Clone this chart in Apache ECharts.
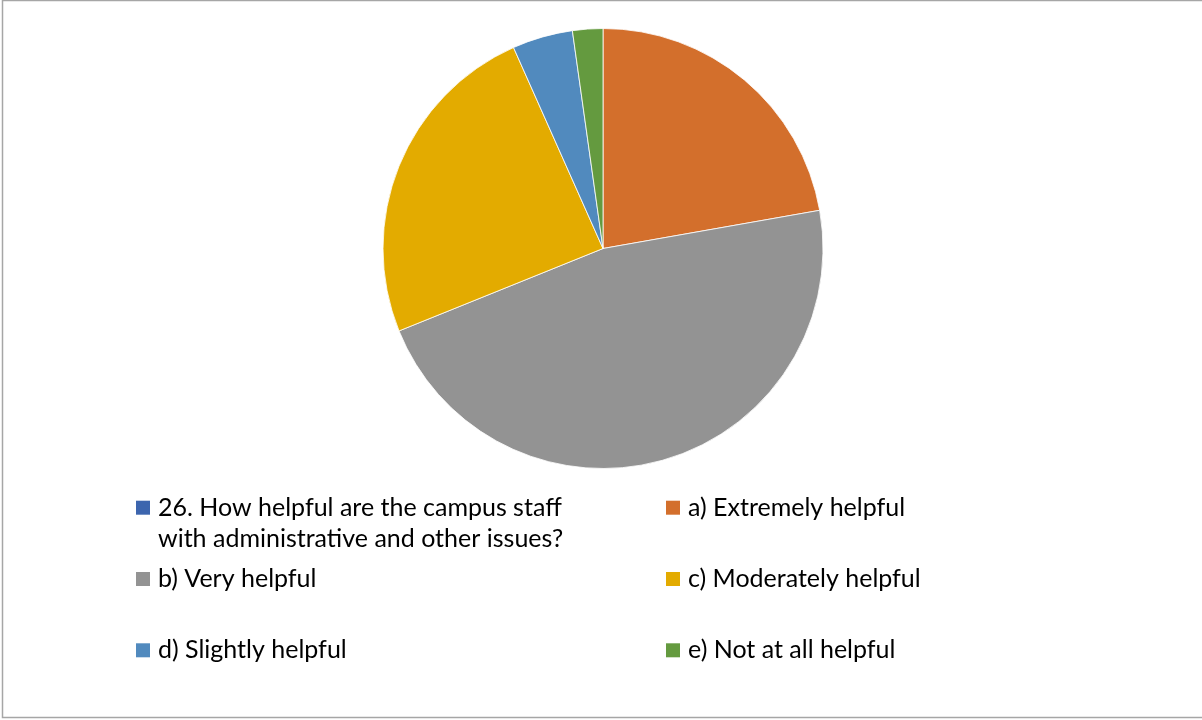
<!DOCTYPE html>
<html>
<head>
<meta charset="utf-8">
<style>
  html, body { margin: 0; padding: 0; background: #fff; }
  #chart { width: 1202px; height: 720px; }
</style>
<script src="https://cdn.jsdelivr.net/npm/echarts@6/dist/echarts.min.js"></script>
</head>
<body>
<div id="chart"></div>
<script>
// Survey question 26: responses per answer option
const categories = [
  '26. How helpful are the campus staff with administrative and other issues?',
  'a) Extremely helpful',
  'b) Very helpful',
  'c) Moderately helpful',
  'd) Slightly helpful',
  'e) Not at all helpful'
];
const counts = [0, 10, 21, 11, 2, 1];
const colors = ['#3C65AE', '#D36F2C', '#939393', '#E3AB00', '#518ABE', '#649A3F'];

const FONT = 'Lato, "Open Sans", sans-serif';
const FONT_SIZE = 25;
const LINE_H = 31;

// legend slots: [left, icon centre y] for each category, two columns
const legendSlots = [
  [136, 507.7], [666, 507.7],
  [136, 579], [666, 579],
  [136, 650.3], [666, 650.3]
];

const legends = categories.map((name, i) => {
  const multi = i === 0;
  // the long item wraps; a leading blank line keeps the swatch beside its first line
  const blockH = multi ? LINE_H * 3 : LINE_H;
  return {
    data: [name],
    left: legendSlots[i][0],
    top: legendSlots[i][1] - blockH / 2,
    padding: 0,
    itemWidth: 14,
    itemHeight: 14,
    icon: 'rect',
    selectedMode: false,
    itemStyle: { borderWidth: 0 },
    formatter: multi ? (n => '\n' + n) : undefined,
    textStyle: {
      fontFamily: FONT,
      fontSize: FONT_SIZE,
      color: '#000',
      lineHeight: LINE_H,
      padding: [0, 0, 0, 3],
      width: multi ? 425 : undefined,
      overflow: multi ? 'break' : 'none'
    }
  };
});

const chart = echarts.init(document.getElementById('chart'), null, { renderer: 'canvas' });
chart.setOption({
  animation: false,
  color: colors,
  legend: legends,
  graphic: [{
    type: 'rect',
    shape: { x: 2.5, y: 0.5, width: 1210, height: 717 },
    style: { fill: 'none', stroke: '#a6a6a6', lineWidth: 1.5 },
    silent: true,
    z: -1
  }],
  series: [{
    type: 'pie',
    center: [603, 248.5],
    radius: [0, 220],
    startAngle: 90,
    clockwise: true,
    label: { show: false },
    labelLine: { show: false },
    emphasis: { disabled: true },
    itemStyle: { borderColor: '#ffffff', borderWidth: 0.8 },
    data: categories.map((name, i) => ({ name: name, value: counts[i] }))
  }]
});
</script>
</body>
</html>
